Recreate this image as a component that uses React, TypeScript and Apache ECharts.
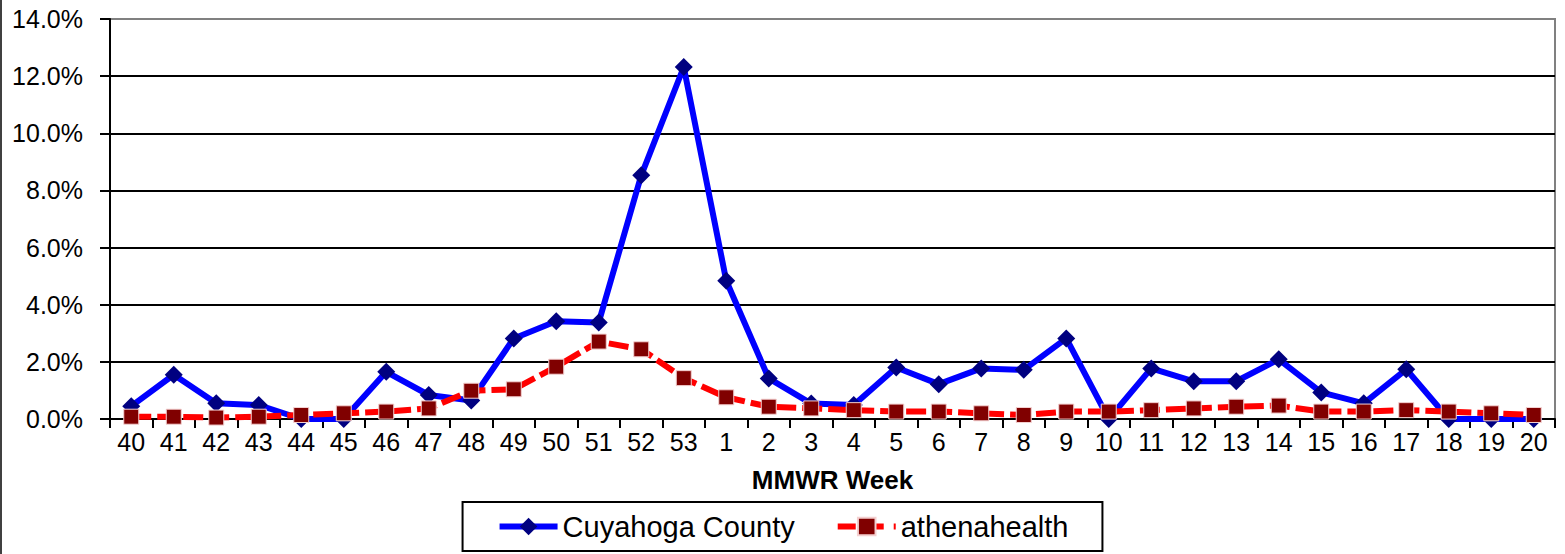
import React, { useEffect, useRef } from "react";
import * as echarts from "echarts";

const weeks = [
  "40", "41", "42", "43", "44", "45", "46", "47", "48", "49", "50", "51", "52", "53",
  "1", "2", "3", "4", "5", "6", "7", "8", "9", "10", "11", "12", "13", "14", "15", "16", "17", "18", "19", "20",
];

const cuyahoga = [
  0.45, 1.55, 0.55, 0.49, 0, 0, 1.65, 0.84, 0.65, 2.82, 3.42, 3.38, 8.53, 12.32,
  4.84, 1.42, 0.54, 0.49, 1.8, 1.22, 1.77, 1.72, 2.82, 0, 1.77, 1.32, 1.32, 2.09, 0.93, 0.55, 1.74, 0, 0, 0,
];

const athena = [
  0.08, 0.08, 0.05, 0.08, 0.14, 0.2, 0.26, 0.37, 0.99, 1.04, 1.83, 2.71, 2.44, 1.43,
  0.76, 0.43, 0.37, 0.31, 0.26, 0.26, 0.2, 0.14, 0.26, 0.26, 0.31, 0.37, 0.43, 0.47, 0.26, 0.26, 0.31, 0.26, 0.2, 0.14,
];

const FONT = 'Arial, "Liberation Sans", sans-serif';

export default function App() {
  const ref = useRef<HTMLDivElement>(null);
  useEffect(() => {
    if (!ref.current) return;
    const chart = echarts.init(ref.current, null, { renderer: "svg" });
    chart.setOption({
      animation: false,
      backgroundColor: "#fff",
      textStyle: { fontFamily: FONT },
      grid: {
        left: 110,
        right: 10,
        top: 19,
        bottom: 135,
        show: true,
        borderColor: "#808080",
        borderWidth: 2,
        backgroundColor: "transparent",
      },
      graphic: [
        {
          type: "line",
          shape: { x1: 1, y1: 0, x2: 1, y2: 554 },
          style: { stroke: "#404040", lineWidth: 2 },
        },
      ],
      legend: {
        left: "center",
        top: 502,
        padding: [10, 34],
        borderColor: "#000",
        borderWidth: 2,
        itemWidth: 58,
        itemHeight: 22,
        itemGap: 40,
        textStyle: { fontSize: 29, color: "#000", fontFamily: FONT },
        data: [
          { name: "Cuyahoga County", lineStyle: { width: 6, color: "#0000FF" } },
          { name: "athenahealth", lineStyle: { width: 6, color: "#FF0000", type: [18, 10] } },
        ],
      },
      xAxis: {
        type: "category",
        data: weeks,
        boundaryGap: true,
        name: "MMWR Week",
        nameLocation: "middle",
        nameGap: 48,
        nameTextStyle: { fontSize: 26, fontWeight: "bold", color: "#000", fontFamily: FONT },
        axisLine: { lineStyle: { color: "#000", width: 2 } },
        axisTick: { show: true, length: 9, lineStyle: { color: "#000", width: 2 } },
        axisLabel: { fontSize: 25, color: "#000", margin: 10, interval: 0, fontFamily: FONT },
        splitLine: { show: false },
      },
      yAxis: {
        type: "value",
        min: 0,
        max: 14,
        interval: 2,
        axisLine: { show: true, lineStyle: { color: "#000", width: 2 } },
        axisTick: { show: true, length: 10, lineStyle: { color: "#000", width: 2 } },
        axisLabel: {
          fontSize: 25,
          color: "#000",
          margin: 27,
          fontFamily: FONT,
          formatter: (v: number) => v.toFixed(1) + "%",
        },
        splitLine: {
          show: true,
          lineStyle: {
            color: ["#000", "#000", "#000", "#000", "#000", "#000", "#000", "#808080"],
            width: 2,
          },
        },
      },
      series: [
        {
          name: "Cuyahoga County",
          type: "line",
          data: cuyahoga,
          symbol: "diamond",
          symbolSize: 18,
          lineStyle: { color: "#0000FF", width: 6 },
          itemStyle: { color: "#000080" },
        },
        {
          name: "athenahealth",
          type: "line",
          data: athena,
          symbol: "rect",
          symbolSize: 15,
          lineStyle: { color: "#FF0000", width: 6, type: [20, 6] },
          itemStyle: { color: "#800000", borderColor: "#F4D0D0", borderWidth: 1 },
        },
      ],
    });
    return () => chart.dispose();
  }, []);
  return (
    <div
      ref={ref}
      style={{ position: "absolute", left: 0, top: 0, width: 1565, height: 554 }}
    />
  );
}
